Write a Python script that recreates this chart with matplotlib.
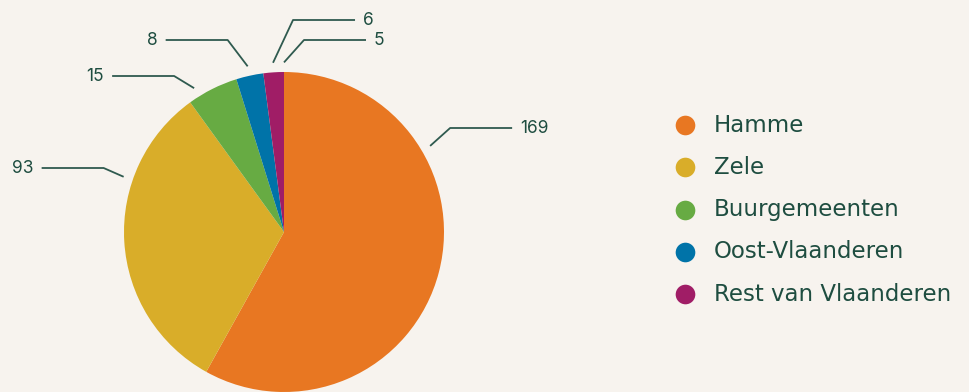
# herkomst bezoekers - taartdiagram met legende rechts
import numpy as np
import matplotlib
matplotlib.use("Agg")
import matplotlib.pyplot as plt

# data
categories = ["Hamme", "Zele", "Buurgemeenten", "Oost-Vlaanderen", "Rest van Vlaanderen"]
values = [169, 93, 15, 8, 6, 5]          # laatste waarde heeft geen zichtbare schijf/legende
visible = [True, True, True, True, True, False]
colors = ["#E87722", "#D9AD29", "#67AB43", "#0073A8", "#A01D66"]

# layout van de labels (pixels vanaf boven), hoek-override waar de lijn niet in het midden raakt
label_y = [128, 168, 76, 40, 20, 40]
label_angle = [59.5, 289.0, 328.0, None, None, None]   # graden, met de klok mee vanaf boven
label_side = [1, -1, -1, -1, 1, 1]

BG = "#F7F3EE"
TXT = "#1E4D40"
LINE = "#2F5A4F"
W, H = 970, 392
plt.rcParams["font.family"] = ["Inter", "DejaVu Sans"]

fig = plt.figure(figsize=(W / 100, H / 100), dpi=100, facecolor=BG)
ax = fig.add_axes([0, 0, 1, 1])
ax.set_facecolor(BG)

cx, cy, r = 284, H - 232, 160
sizes = [v if s else 0 for v, s in zip(values, visible)]
cols = colors + [BG] * (len(values) - len(colors))
wedges, _ = ax.pie(sizes, colors=cols, startangle=90, counterclock=False,
                   center=(cx, cy), radius=r, wedgeprops={"linewidth": 0})

for w, v, ly, la, side in zip(wedges, values, label_y, label_angle, label_side):
    if la is None:
        mid = (w.theta1 + w.theta2) / 2          # ccw vanaf x-as
    else:
        mid = 90 - la
    a = np.deg2rad(mid)
    px, py = cx + 1.06 * r * np.cos(a), cy + 1.06 * r * np.sin(a)
    ey = H - ly
    ex = px + side * 20
    fx = ex + side * 62
    ax.plot([px, ex, fx], [py, ey, ey], color=LINE, lw=1.3, solid_capstyle="butt", zorder=3)
    ax.text(fx + side * 8, ey, str(v), ha="left" if side > 0 else "right", va="center",
            fontsize=12.5, color=TXT)

# legende
for i, (name, c) in enumerate(zip(categories, colors)):
    y = H - (125 + i * 42.3)
    ax.scatter([685], [y], s=200, color=c, linewidths=0, zorder=3)
    ax.text(714, y, name, ha="left", va="center", fontsize=16.5, color=TXT,
            family=["DejaVu Sans"])

ax.set_xlim(0, W)
ax.set_ylim(0, H)
ax.set_aspect("auto")
ax.axis("off")
fig.savefig("out.png", dpi=100, facecolor=BG)
